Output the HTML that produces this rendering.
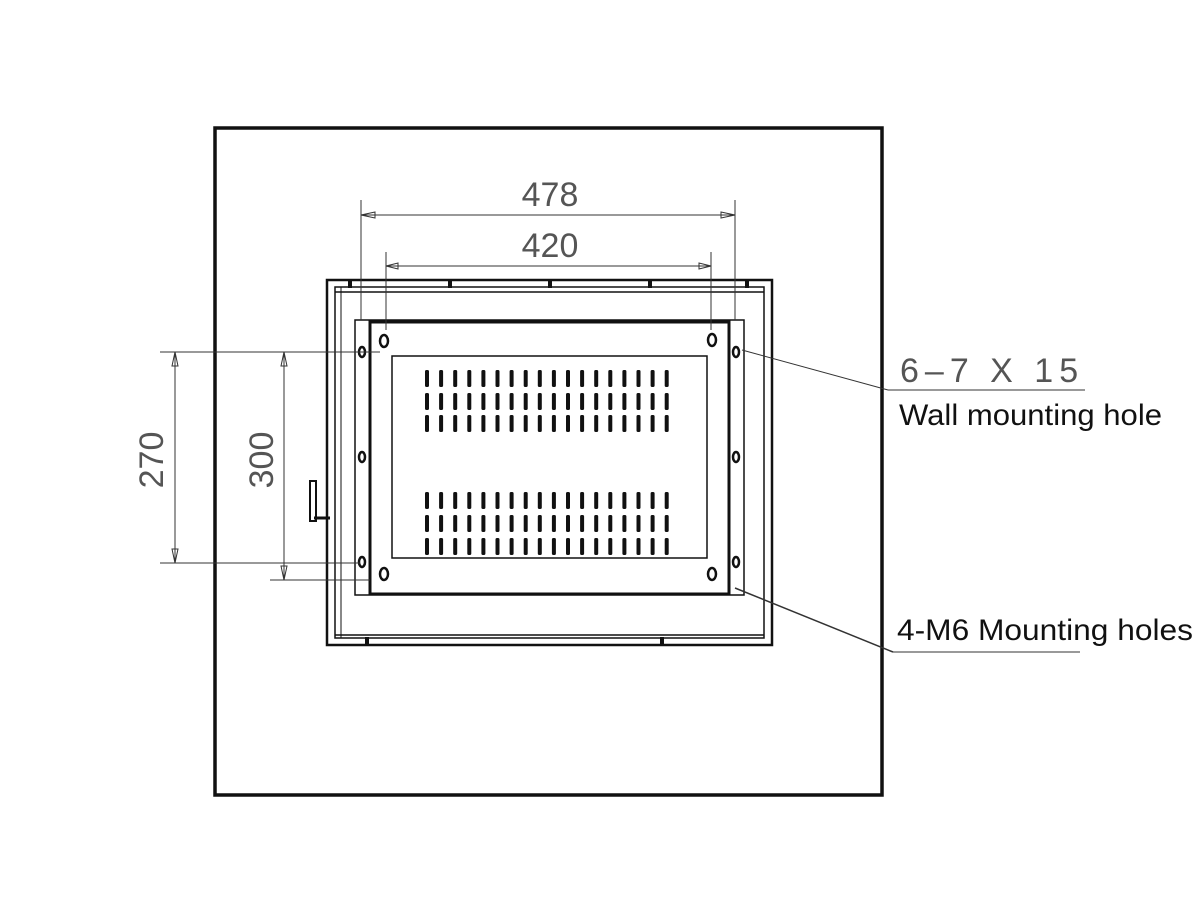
<!DOCTYPE html>
<html><head><meta charset="utf-8"><style>
html,body{margin:0;padding:0;background:#fff;}
svg{display:block;}
text{font-family:"Liberation Sans",sans-serif;}
</style></head><body>
<svg id="s" width="1200" height="907" viewBox="0 0 1200 907" xmlns="http://www.w3.org/2000/svg">
<rect x="0" y="0" width="1200" height="907" fill="#fff"/>
<rect x="215" y="128" width="667" height="667" fill="none" stroke="#111" stroke-width="3.5"/>
<rect x="327" y="280" width="445" height="365" fill="none" stroke="#111" stroke-width="2.5"/>
<rect x="335" y="287" width="429" height="351" fill="none" stroke="#111" stroke-width="1.5"/>
<line x1="335" y1="292" x2="764" y2="292" stroke="#111" stroke-width="1.5"/>
<line x1="335" y1="635" x2="764" y2="635" stroke="#111" stroke-width="1.5"/>
<line x1="341" y1="287" x2="341" y2="638" stroke="#111" stroke-width="1"/>
<g fill="#111">
<rect x="348" y="280" width="4" height="8"/><rect x="448" y="280" width="4" height="8"/><rect x="548" y="280" width="4" height="8"/><rect x="648" y="280" width="4" height="8"/><rect x="745" y="280" width="4" height="8"/>
<rect x="365" y="637" width="4" height="8"/><rect x="660" y="637" width="4" height="8"/>
</g>
<rect x="310" y="481" width="6" height="40" fill="none" stroke="#111" stroke-width="2"/>
<line x1="314" y1="518" x2="330" y2="518" stroke="#111" stroke-width="3"/>
<rect x="355" y="320" width="389" height="275" fill="none" stroke="#111" stroke-width="1.5"/>
<line x1="370" y1="320" x2="370" y2="595" stroke="#111" stroke-width="3"/>
<line x1="729" y1="320" x2="729" y2="595" stroke="#111" stroke-width="3"/>
<line x1="370" y1="322" x2="729" y2="322" stroke="#111" stroke-width="3"/>
<line x1="370" y1="594" x2="729" y2="594" stroke="#111" stroke-width="3"/>
<rect x="392" y="356" width="315" height="202" fill="none" stroke="#111" stroke-width="1.5"/>
<g id="slots" fill="#111"></g>
<g fill="none" stroke="#111" stroke-width="2.5">
<ellipse cx="384" cy="341" rx="4" ry="6"/><ellipse cx="384" cy="574" rx="4" ry="6"/>
<ellipse cx="712" cy="340" rx="4" ry="6"/><ellipse cx="712" cy="574" rx="4" ry="6"/>
<ellipse cx="362" cy="352" rx="3" ry="5"/><ellipse cx="362" cy="457" rx="3" ry="5"/><ellipse cx="362" cy="562" rx="3" ry="5"/>
<ellipse cx="736" cy="352" rx="3" ry="5"/><ellipse cx="736" cy="457" rx="3" ry="5"/><ellipse cx="736" cy="562" rx="3" ry="5"/>
</g>
<g stroke="#333" stroke-width="1">
<line x1="361" y1="200" x2="361" y2="320"/><line x1="735" y1="200" x2="735" y2="320"/>
<line x1="361" y1="215" x2="735" y2="215"/>
<line x1="386" y1="252" x2="386" y2="330"/><line x1="711" y1="252" x2="711" y2="330"/>
<line x1="386" y1="266" x2="711" y2="266"/>
<line x1="160" y1="352" x2="380" y2="352"/><line x1="160" y1="563" x2="360" y2="563"/>
<line x1="175" y1="352" x2="175" y2="563"/>
<line x1="270" y1="580" x2="370" y2="580"/>
<line x1="284" y1="352" x2="284" y2="580"/>
<line x1="742" y1="350" x2="888" y2="390"/><line x1="888" y1="390" x2="1085" y2="390"/>
<line x1="735" y1="588" x2="893" y2="652" stroke-width="1.5"/><line x1="893" y1="652" x2="1080" y2="652"/>
</g>
<g fill="none" stroke="#333" stroke-width="1">
<path d="M361 215 l14 -3 v6 z"/><path d="M735 215 l-14 -3 v6 z"/>
<path d="M386 266 l12 -3 v6 z"/><path d="M711 266 l-12 -3 v6 z"/>
<path d="M175 352 l-3 14 h6 z"/><path d="M175 563 l-3 -14 h6 z"/>
<path d="M284 352 l-3 14 h6 z"/><path d="M284 580 l-3 -14 h6 z"/>
</g>
<g fill="#555" font-size="34">
<text x="550" y="206" text-anchor="middle">478</text>
<text x="550" y="257" text-anchor="middle">420</text>
<text transform="translate(163,460) rotate(-90)" text-anchor="middle">270</text>
<text transform="translate(273,460) rotate(-90)" text-anchor="middle">300</text>
<text x="900" y="382" letter-spacing="6">6–7 X 15</text>
</g>
<text x="899" y="425" font-size="30" fill="#111" textLength="263" lengthAdjust="spacingAndGlyphs">Wall mounting hole</text>
<text x="897" y="640" font-size="30" fill="#111" textLength="296" lengthAdjust="spacingAndGlyphs">4-M6 Mounting holes</text>
</svg>
<script>
var g=document.getElementById('slots'),h='';
var rows=[370,393,415,492,515,538];
for(var r=0;r<6;r++)for(var c=0;c<18;c++){var x=425+c*14.1;h+='<rect x="'+x+'" y="'+rows[r]+'" width="4" height="17" rx="1.5"/>';}
g.innerHTML=h;
</script>
</body></html>
